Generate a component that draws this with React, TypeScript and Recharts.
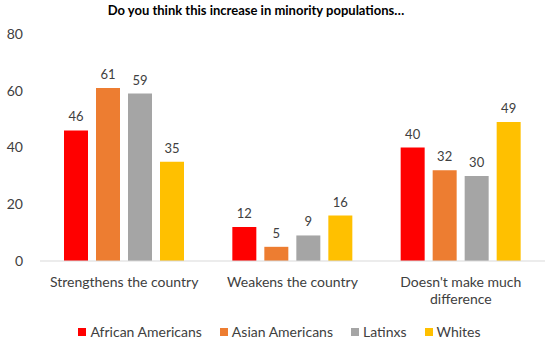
import { BarChart, Bar, XAxis, YAxis, LabelList, Text } from 'recharts';

const categories = ['Strengthens the country', 'Weakens the country', "Doesn't make much difference"];
const africanAmericans = [46, 12, 40];
const asianAmericans = [61, 5, 32];
const latinxs = [59, 9, 30];
const whites = [35, 16, 49];
const yTicks = [0, 20, 40, 60, 80];

const series = [
  { key: 'aa', name: 'African Americans', color: '#FF0000', values: africanAmericans },
  { key: 'as', name: 'Asian Americans', color: '#ED7D31', values: asianAmericans },
  { key: 'la', name: 'Latinxs', color: '#A5A5A5', values: latinxs },
  { key: 'wh', name: 'Whites', color: '#FFC000', values: whites },
];

const data = categories.map((c, i) => {
  const row: Record<string, string | number> = { category: c };
  series.forEach((s) => { row[s.key] = s.values[i]; });
  return row;
});

const FONT = 'Lato, "Open Sans", sans-serif';
const TEXT = '#404040';

function CategoryTick(props: any) {
  const { x, y, payload } = props;
  return (
    <Text x={x} y={y} width={165} textAnchor="middle" verticalAnchor="start"
      fill={TEXT} fontSize={14} fontFamily={FONT} lineHeight={17}>
      {payload.value}
    </Text>
  );
}

function LegendRow() {
  return (
    <div style={{ position: 'absolute', left: 0, top: 323, width: 559, display: 'flex', justifyContent: 'center',
      fontFamily: FONT, fontSize: 14, color: TEXT, paddingLeft: 0, boxSizing: 'border-box' }}>
      {series.map((s, i) => (
        <div key={s.key} style={{ display: 'flex', alignItems: 'center', marginRight: i < series.length - 1 ? 18 : 0 }}>
          <span style={{ width: 8, height: 8, background: s.color, display: 'inline-block', marginRight: 4 }} />
          <span>{s.name}</span>
        </div>
      ))}
    </div>
  );
}

export default function App() {
  return (
    <div style={{ position: 'absolute', left: 0, top: 0, width: 559, height: 350, background: '#fff' }}>
      <div style={{ height: 22, lineHeight: '20px', fontFamily: FONT, fontWeight: 'bold', fontSize: 13, color: '#000', textAlign: 'center', width: 512 }}>
        Do you think this increase in minority populations…
      </div>
      <BarChart width={559} height={328} data={data} margin={{ top: 12, right: 14, left: 0, bottom: 43 }}
        barGap={8} barSize={24}>
        <XAxis dataKey="category" axisLine={{ stroke: '#D9D9D9' }} tickLine={false} tick={<CategoryTick />}
          tickMargin={10} interval={0} height={46} />
        <YAxis domain={[0, 80]} ticks={yTicks} axisLine={false} tickLine={false} tickSize={0} tickMargin={17}
          width={40} tick={{ fill: TEXT, fontSize: 14, fontFamily: FONT }} />
        {series.map((s) => (
          <Bar key={s.key} dataKey={s.key} name={s.name} fill={s.color} isAnimationActive={false}>
            <LabelList dataKey={s.key} position="top" offset={9} fill={TEXT} fontSize={13} fontFamily={FONT} />
          </Bar>
        ))}
      </BarChart>
      <LegendRow />
    </div>
  );
}
